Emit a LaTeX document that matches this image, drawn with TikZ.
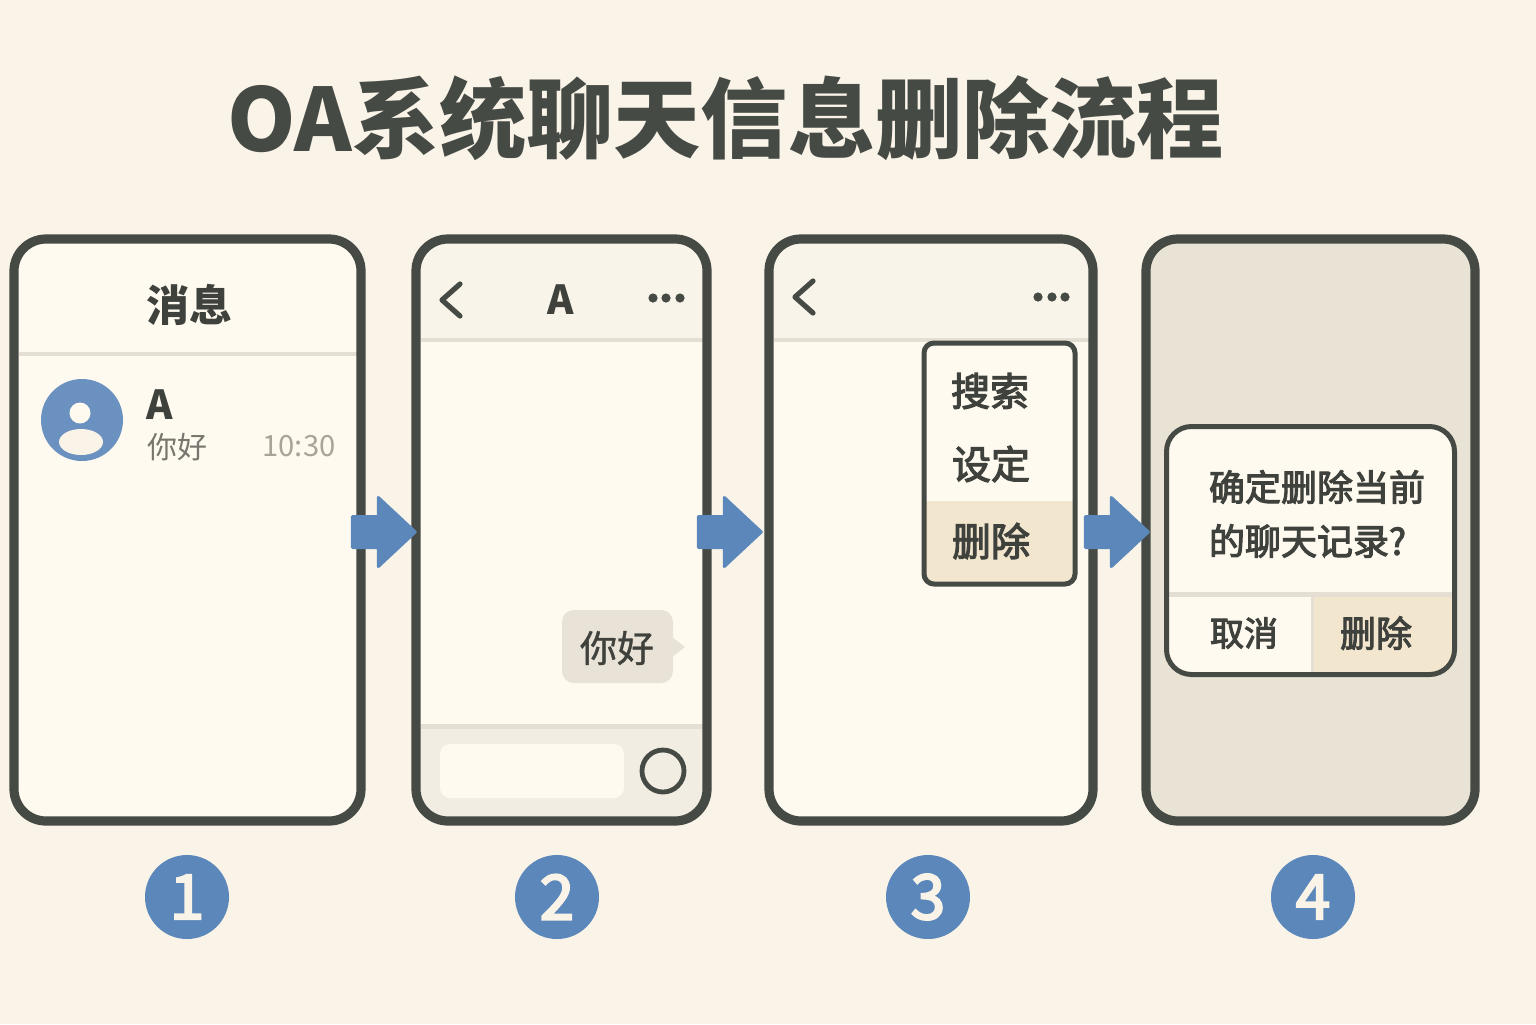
\documentclass[tikz,border=0pt]{standalone}
\usepackage{fontspec}
\setmainfont{Noto Sans CJK SC}
\newfontfamily\medf{Noto Sans CJK SC}[FakeBold=3]
\newfontfamily\numf{Noto Sans CJK SC}[FakeBold=3.5]
\newfontfamily\litef{Noto Sans CJK SC}[FakeBold=1]
\usetikzlibrary{shapes.arrows}
\definecolor{bgc}{HTML}{F9F3E8}
\definecolor{screenc}{HTML}{FEFAF0}
\definecolor{darkc}{HTML}{464A44}
\definecolor{inkc}{HTML}{3F413C}
\definecolor{bluec}{HTML}{5C87BA}
\definecolor{avac}{HTML}{6A91BF}
\definecolor{sepc}{HTML}{E4DFD2}
\definecolor{headc}{HTML}{F9F4E9}
\definecolor{barc}{HTML}{F1EDE2}
\definecolor{bubc}{HTML}{E8E3D6}
\definecolor{hlc}{HTML}{F2E6CF}
\definecolor{dimc}{HTML}{E9E3D6}
\definecolor{greyc}{HTML}{77756E}
\definecolor{timec}{HTML}{A9A398}
\tikzset{
  x=0.5pt,y=-0.5pt,
  txt/.style={inner sep=0pt,outer sep=0pt,text=inkc},
  flow/.style={single arrow,fill=bluec,draw=bluec,line width=1.5pt,line join=round,inner sep=0pt,inner ysep=7pt,
     single arrow head extend=9.5pt,single arrow tip angle=86,single arrow head indent=0pt,minimum height=31.5pt,outer sep=0pt},
  num/.style={circle,fill=bluec,minimum size=42pt,inner sep=0pt,text=bgc,font=\fontsize{31pt}{31pt}\selectfont\numf},
  border/.style={draw=darkc,line width=4.6pt,rounded corners=16pt},
  chev/.style={draw=darkc,line width=2.6pt,line cap=round,line join=round},
  dot/.style={circle,fill=darkc,minimum size=4.6pt,inner sep=0pt},
  sepline/.style={draw=sepc,line width=2pt},
}
\newcommand{\phonepath}[2]{(#1,239) rectangle (#2,821)}
\begin{document}
\begin{tikzpicture}
\useasboundingbox (0,0) rectangle (1536,1024);
\fill[bgc] (0,0) rectangle (1536,1024);
% title
\node[txt,anchor=west,text=darkc,font=\fontsize{43.6pt}{43.6pt}\selectfont\bfseries] (title) at (227,118) {OA系统聊天信息删除流程};

% phone 1
\fill[screenc,rounded corners=16pt] \phonepath{14}{361};
\draw[sepline] (19,354) -- (357,354);
\draw[border] \phonepath{14}{361};
\node[txt,font=\fontsize{21.5pt}{21.5pt}\selectfont\bfseries] (t1) at (189,305) {消息};
\node[circle,fill=avac,minimum size=41pt,inner sep=0pt] (ava) at (82,420) {};
\fill[screenc] (80,413) circle [radius=10.5];
\fill[bgc] (81,442) ellipse [x radius=22,y radius=13];
\node[txt,font=\fontsize{20pt}{20pt}\selectfont\bfseries] (a1) at (160,405) {A};
\node[txt,text=greyc,font=\fontsize{15pt}{15pt}\selectfont] (hi1) at (177,447) {你好};
\node[txt,text=timec,font=\fontsize{14.6pt}{14.6pt}\selectfont] (time) at (299,446) {10:30};

% phone 2
\fill[screenc,rounded corners=16pt] \phonepath{416}{707};
\begin{scope}
\clip[rounded corners=16pt] \phonepath{416}{707};
\fill[headc] (416,239) rectangle (707,340);
\fill[barc] (416,725) rectangle (707,821);
\end{scope}
\draw[sepline] (421,340) -- (703,340);
\draw[sepline,line width=2.5pt] (421,726) -- (703,726);
\draw[border] \phonepath{416}{707};
\draw[chev] (460,284) -- (442,300) -- (460,316);
\node[txt,font=\fontsize{20pt}{20pt}\selectfont\bfseries] (a2) at (561,300) {A};
\node[dot] (d21) at (653,298) {};
\node[dot] (d22) at (666,298) {};
\node[dot] (d23) at (680,298) {};
\fill[bubc] (672,637) -- (685,647) -- (672,657) -- cycle;
\fill[bubc,rounded corners=6pt] (562,610) rectangle (673,683);
\node[txt,font=\fontsize{18.5pt}{18.5pt}\selectfont\litef] (hi2) at (617,648) {你好};
\fill[screenc,rounded corners=5pt] (440,744) rectangle (624,798);
\draw[draw=darkc,line width=2.4pt] (663,771) circle [radius=21];

% phone 3
\fill[screenc,rounded corners=16pt] \phonepath{769}{1093};
\begin{scope}
\clip[rounded corners=16pt] \phonepath{769}{1093};
\fill[headc] (769,239) rectangle (1093,340);
\end{scope}
\draw[sepline] (774,340) -- (1089,340);
\draw[border] \phonepath{769}{1093};
\draw[chev] (813,281) -- (795,297) -- (813,313);
\node[dot] (d31) at (1038,297) {};
\node[dot] (d32) at (1052,297) {};
\node[dot] (d33) at (1065,297) {};
\fill[screenc,rounded corners=5pt] (924,343) rectangle (1075,584);
\begin{scope}
\clip[rounded corners=5pt] (924,343) rectangle (1075,584);
\fill[hlc] (924,501) rectangle (1075,584);
\end{scope}
\draw[draw=darkc,line width=2.5pt,rounded corners=5pt] (924,343) rectangle (1075,584);
\node[txt,font=\fontsize{19.5pt}{19.5pt}\selectfont\medf] (m1) at (990,391) {搜索};
\node[txt,font=\fontsize{19.5pt}{19.5pt}\selectfont\medf] (m2) at (991,464) {设定};
\node[txt,font=\fontsize{19.5pt}{19.5pt}\selectfont\medf] (m3) at (991,541) {删除};

% phone 4
\fill[dimc,rounded corners=16pt] \phonepath{1146}{1475};
\draw[border] \phonepath{1146}{1475};
\fill[screenc,rounded corners=12.5pt] (1166.5,426.5) rectangle (1454.5,674.5);
\begin{scope}
\clip[rounded corners=12.5pt] (1166.5,426.5) rectangle (1454.5,674.5);
\fill[hlc] (1312,594) rectangle (1455,675);
\draw[sepline,line width=2.5pt] (1166,594) -- (1455,594);
\draw[sepline,line width=1.5pt] (1312,594) -- (1312,675);
\end{scope}
\draw[draw=darkc,line width=2.5pt,rounded corners=12.5pt] (1166.5,426.5) rectangle (1454.5,674.5);
\node[txt,anchor=west,font=\fontsize{18pt}{18pt}\selectfont\medf] (q1) at (1209,487) {确定删除当前};
\node[txt,anchor=west,font=\fontsize{18pt}{18pt}\selectfont\medf] (q2) at (1209,541) {的聊天记录?};
\node[txt,font=\fontsize{17pt}{17pt}\selectfont\medf] (b1) at (1244,633) {取消};
\node[txt,font=\fontsize{18pt}{18pt}\selectfont\medf] (b2) at (1376,633) {删除};

% arrows
\node[flow] (f1) at (375.5,532) {};
\node[flow] (f2) at (721.5,532) {};
\node[flow] (f3) at (1108.5,532) {};

% numbers
\node[num] (n1) at (187,897) {1};
\node[num] (n2) at (557,897) {2};
\node[num] (n3) at (928,897) {3};
\node[num] (n4) at (1313,897) {4};
\end{tikzpicture}
\end{document}
